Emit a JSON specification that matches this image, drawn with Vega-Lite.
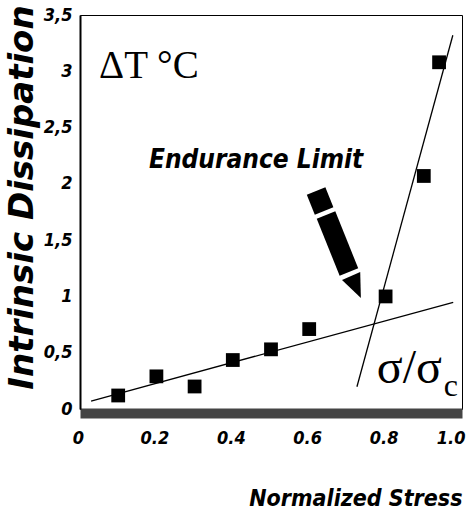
{
  "$schema": "https://vega.github.io/schema/vega-lite/v6.json",
  "width": 382,
  "height": 394,
  "autosize": {"type": "none"},
  "padding": {"left": 80, "top": 15, "right": 7, "bottom": 106},
  "background": "white",
  "datasets": {
    "measured": [
      {"stress": 0.1, "dissipation": 0.12},
      {"stress": 0.2, "dissipation": 0.29},
      {"stress": 0.3, "dissipation": 0.2},
      {"stress": 0.4, "dissipation": 0.435},
      {"stress": 0.5, "dissipation": 0.53},
      {"stress": 0.6, "dissipation": 0.71},
      {"stress": 0.8, "dissipation": 1.0},
      {"stress": 0.9, "dissipation": 2.07},
      {"stress": 0.94, "dissipation": 3.08}
    ],
    "fits": [
      {"fit": "below limit", "x": 0.029, "y": 0.071, "x2": 0.977, "y2": 0.948},
      {"fit": "above limit", "x": 0.725, "y": 0.198, "x2": 0.976, "y2": 3.32}
    ],
    "pencil": [
      {"part": "eraser", "x": 0.618, "y": 1.937, "x2": 0.639, "y2": 1.759},
      {"part": "body", "x": 0.644, "y": 1.723, "x2": 0.704, "y2": 1.217}
    ],
    "tip": [{"x": 0.7225, "y": 1.084}],
    "deltaT": [{"x": 0.05, "y": 2.94, "label": "ΔT °C"}],
    "limit": [{"x": 0.461, "y": 2.14, "label": "Endurance Limit"}],
    "ratio": [{"x": 0.777, "y": 0.231, "label": "σ/σ"}],
    "ratioSub": [{"x": 0.952, "y": 0.115, "label": "c"}]
  },
  "layer": [
    {
      "data": {"name": "fits"},
      "mark": {"type": "rule", "color": "black", "strokeWidth": 1.3},
      "encoding": {
        "x": {
          "field": "x",
          "type": "quantitative",
          "scale": {"domain": [0, 1], "nice": false, "zero": false},
          "axis": {
            "values": [0, 0.2, 0.4, 0.6, 0.8, 1],
            "labelExpr": "datum.value == 1 ? '1.0' : toString(datum.value)",
            "title": "Normalized Stress",
            "grid": false,
            "ticks": false,
            "domainWidth": 10,
            "domainColor": "#444444",
            "offset": 4,
            "labelPadding": 16,
            "labelFlush": false,
            "labelOverlap": false,
            "labelBound": false,
            "labelAlign": {"condition": {"test": "datum.value == 1", "value": "right"}, "value": "center"},
            "labelOffset": {"condition": {"test": "datum.value == 1", "value": 3}, "value": -2},
            "labelFont": "Liberation Sans Narrow, DejaVu Sans Condensed, sans-serif",
            "labelFontSize": 18,
            "labelFontWeight": "bold",
            "labelFontStyle": "italic",
            "labelColor": "black",
            "titleFont": "Liberation Sans Narrow, DejaVu Sans Condensed, sans-serif",
            "titleFontSize": 23,
            "titleFontWeight": "bold",
            "titleFontStyle": "italic",
            "titleColor": "black",
            "titleAnchor": "end",
            "titleAlign": "right",
            "titleBaseline": "alphabetic",
            "titleY": 92
          }
        },
        "y": {
          "field": "y",
          "type": "quantitative",
          "scale": {"domain": [0, 3.5], "nice": false, "zero": false},
          "axis": {
            "values": [0, 0.5, 1, 1.5, 2, 2.5, 3, 3.5],
            "labelExpr": "replace(toString(datum.value), '.', ',')",
            "title": "Intrinsic Dissipation",
            "grid": false,
            "ticks": false,
            "domainWidth": 2,
            "domainColor": "black",
            "labelPadding": 8,
            "labelAlign": "right",
            "labelOverlap": false,
            "labelBound": false,
            "labelFont": "Liberation Sans Narrow, DejaVu Sans Condensed, sans-serif",
            "labelFontSize": 18,
            "labelFontWeight": "bold",
            "labelFontStyle": "italic",
            "labelColor": "black",
            "titleFont": "DejaVu Sans, sans-serif",
            "titleFontSize": 34,
            "titleFontWeight": "bold",
            "titleFontStyle": "italic",
            "titleColor": "black",
            "titleAngle": -90,
            "titleAlign": "center",
            "titleBaseline": "middle",
            "titleX": -58,
            "titleY": 182
          }
        },
        "x2": {"field": "x2"},
        "y2": {"field": "y2"}
      }
    },
    {
      "data": {"name": "measured"},
      "mark": {"type": "point", "shape": "square", "filled": true, "color": "black", "opacity": 1, "size": 190},
      "encoding": {
        "x": {"field": "stress", "type": "quantitative"},
        "y": {"field": "dissipation", "type": "quantitative"}
      }
    },
    {
      "data": {"name": "pencil"},
      "mark": {"type": "rule", "color": "black", "strokeWidth": 20, "strokeCap": "butt"},
      "encoding": {
        "x": {"field": "x", "type": "quantitative"},
        "y": {"field": "y", "type": "quantitative"},
        "x2": {"field": "x2"},
        "y2": {"field": "y2"}
      }
    },
    {
      "data": {"name": "tip"},
      "mark": {"type": "point", "shape": "M -0.83 -1 L 0.83 -1 L 0 1 Z", "filled": true, "color": "black", "opacity": 1, "size": 576, "angle": 336},
      "encoding": {
        "x": {"field": "x", "type": "quantitative"},
        "y": {"field": "y", "type": "quantitative"}
      }
    },
    {
      "data": {"name": "deltaT"},
      "mark": {"type": "text", "font": "Liberation Serif, serif", "fontSize": 39, "align": "left", "baseline": "alphabetic", "color": "black"},
      "encoding": {
        "x": {"field": "x", "type": "quantitative"},
        "y": {"field": "y", "type": "quantitative"},
        "text": {"field": "label"}
      }
    },
    {
      "data": {"name": "limit"},
      "mark": {"type": "text", "font": "Liberation Sans Narrow, DejaVu Sans Condensed, sans-serif", "fontSize": 26, "fontWeight": "bold", "fontStyle": "italic", "align": "center", "baseline": "alphabetic", "color": "black"},
      "encoding": {
        "x": {"field": "x", "type": "quantitative"},
        "y": {"field": "y", "type": "quantitative"},
        "text": {"field": "label"}
      }
    },
    {
      "data": {"name": "ratio"},
      "mark": {"type": "text", "font": "Liberation Serif, serif", "fontSize": 48, "align": "left", "baseline": "alphabetic", "color": "black"},
      "encoding": {
        "x": {"field": "x", "type": "quantitative"},
        "y": {"field": "y", "type": "quantitative"},
        "text": {"field": "label"}
      }
    },
    {
      "data": {"name": "ratioSub"},
      "mark": {"type": "text", "font": "Liberation Serif, serif", "fontSize": 32, "align": "left", "baseline": "alphabetic", "color": "black"},
      "encoding": {
        "x": {"field": "x", "type": "quantitative"},
        "y": {"field": "y", "type": "quantitative"},
        "text": {"field": "label"}
      }
    }
  ],
  "config": {
    "view": {"stroke": "black", "strokeWidth": 1}
  }
}
